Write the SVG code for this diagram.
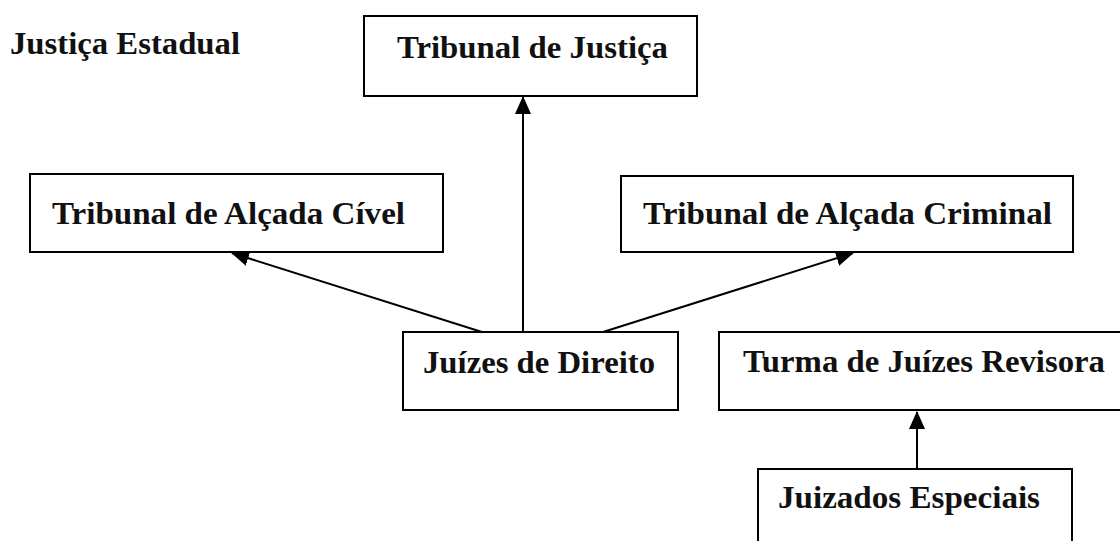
<svg xmlns="http://www.w3.org/2000/svg" width="1120" height="541" viewBox="0 0 1120 541">
<style>
.box{fill:#fff;stroke:#000;stroke-width:2}
.t{font-family:"Liberation Serif","Times New Roman",serif;font-weight:bold;font-size:32px;fill:#111}
.c{stroke:#000;stroke-width:2;fill:none}
</style>
<defs>
<marker id="ah" markerUnits="userSpaceOnUse" markerWidth="18" markerHeight="16" viewBox="0 0 18 16" refX="17" refY="8" orient="auto">
<path d="M0,0 L18,8 L0,16 Z" fill="#000"/>
</marker>
</defs>
<rect width="1120" height="541" fill="#fff"/>
<text class="t" x="10" y="54" textLength="230" lengthAdjust="spacingAndGlyphs">Justiça Estadual</text>
<g id="connectors">
<line class="c" x1="523" y1="332" x2="523" y2="97" marker-end="url(#ah)"/>
<line class="c" x1="482" y1="332" x2="232" y2="253" marker-end="url(#ah)"/>
<line class="c" x1="603" y1="332" x2="853" y2="253" marker-end="url(#ah)"/>
<line class="c" x1="917" y1="469" x2="917" y2="412" marker-end="url(#ah)"/>
</g>
<g id="tribunal-justica">
<rect class="box" x="364" y="16" width="333" height="80"/>
<text class="t" x="397" y="58" textLength="271" lengthAdjust="spacingAndGlyphs">Tribunal de Justiça</text>
</g>
<g id="tribunal-alcada-civel">
<rect class="box" x="30" y="174" width="413" height="78"/>
<text class="t" x="52" y="224" textLength="353" lengthAdjust="spacingAndGlyphs">Tribunal de Alçada Cível</text>
</g>
<g id="tribunal-alcada-criminal">
<rect class="box" x="621" y="176" width="452" height="76"/>
<text class="t" x="643" y="224" textLength="409" lengthAdjust="spacingAndGlyphs">Tribunal de Alçada Criminal</text>
</g>
<g id="juizes-direito">
<rect class="box" x="403" y="332" width="275" height="78"/>
<text class="t" x="423" y="373" textLength="232" lengthAdjust="spacingAndGlyphs">Juízes de Direito</text>
</g>
<g id="turma-revisora">
<rect class="box" x="719" y="332" width="410" height="78"/>
<text class="t" x="743" y="372" textLength="362" lengthAdjust="spacingAndGlyphs">Turma de Juízes Revisora</text>
</g>
<g id="juizados-especiais">
<rect class="box" x="758" y="469" width="314" height="90"/>
<text class="t" x="778" y="508" textLength="262" lengthAdjust="spacingAndGlyphs">Juizados Especiais</text>
</g>
</svg>
